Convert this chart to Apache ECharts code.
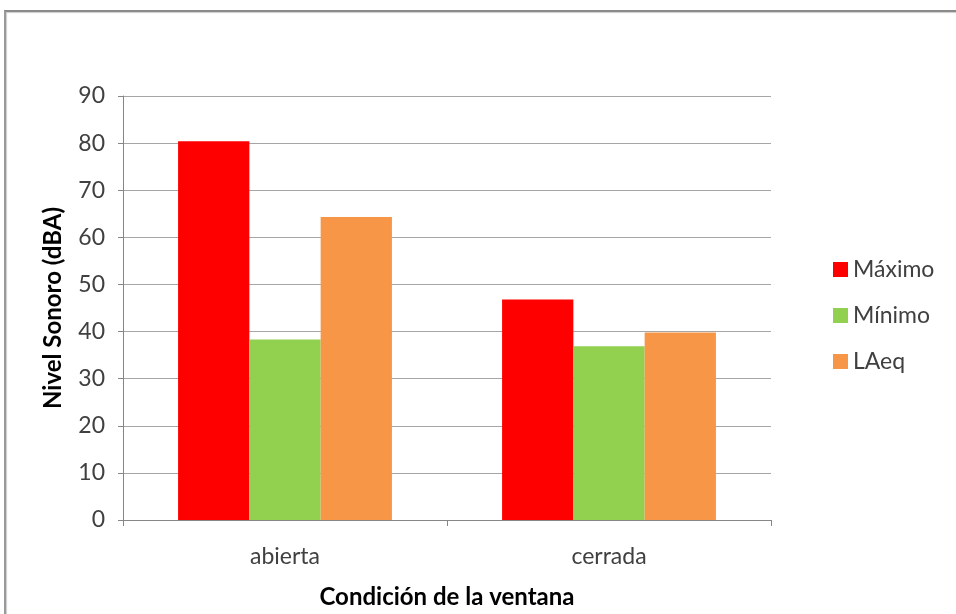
<!DOCTYPE html>
<html><head><meta charset="utf-8">
<script src="https://cdn.jsdelivr.net/npm/echarts@6/dist/echarts.min.js"></script>
<style>html,body{margin:0;padding:0;background:#fff}#c{width:956px;height:614px}
#frame{position:absolute;left:4px;top:10px;width:960px;height:620px;border-top:2px solid #8a8a8a;border-left:2px solid #9a9a9a;box-shadow:inset 1px 1px 1px #ccc;pointer-events:none}</style>
</head><body><div id="c"></div><div id="frame"></div>
<script>
const categories = ['abierta', 'cerrada'];
const maximo = [80.4, 46.8];
const minimo = [38.3, 36.9];
const laeq = [64.3, 39.8];
const seriesNames = ['Máximo', 'Mínimo', 'LAeq'];
const colors = ['#ff0000', '#92d050', '#f79646'];
const font = 'Lato, "Open Sans", sans-serif';
const chart = echarts.init(document.getElementById('c'));
chart.setOption({
  animation: false,
  grid: {left: 123, top: 96, width: 648, height: 425},
  legend: {
    orient: 'vertical', left: 828, top: 253, itemGap: 23, itemWidth: 15, itemHeight: 15,
    icon: 'rect', textStyle: {fontFamily: font, fontSize: 23, color: '#404040'},
    data: seriesNames
  },
  xAxis: {
    type: 'category', data: categories,
    axisLine: {lineStyle: {color: '#868686'}},
    axisTick: {show: true, length: 6, lineStyle: {color: '#868686'}},
    axisLabel: {fontFamily: font, fontSize: 23, color: '#404040', margin: 25},
    name: 'Condición de la ventana', nameLocation: 'middle', nameGap: 65,
    nameTextStyle: {fontFamily: font, fontSize: 24, fontWeight: 'bold', color: '#000'}
  },
  yAxis: {
    type: 'value', min: 0, max: 90, interval: 10,
    axisLine: {show: true, lineStyle: {color: '#868686'}},
    axisTick: {show: true, length: 5, lineStyle: {color: '#868686'}},
    axisLabel: {fontFamily: font, fontSize: 23, color: '#404040', margin: 18},
    splitLine: {lineStyle: {color: '#a6a6a6', width: 1}},
    name: 'Nivel Sonoro (dBA)', nameLocation: 'middle', nameGap: 58, nameRotate: 90,
    nameTextStyle: {fontFamily: font, fontSize: 24, fontWeight: 'bold', color: '#000'}
  },
  series: [
    {name: seriesNames[0], type: 'bar', data: maximo, itemStyle: {color: colors[0]}, barGap: '0%', barCategoryGap: '34%'},
    {name: seriesNames[1], type: 'bar', data: minimo, itemStyle: {color: colors[1]}, barGap: '0%', barCategoryGap: '34%'},
    {name: seriesNames[2], type: 'bar', data: laeq, itemStyle: {color: colors[2]}, barGap: '0%', barCategoryGap: '34%'}
  ]
});
</script></body></html>
